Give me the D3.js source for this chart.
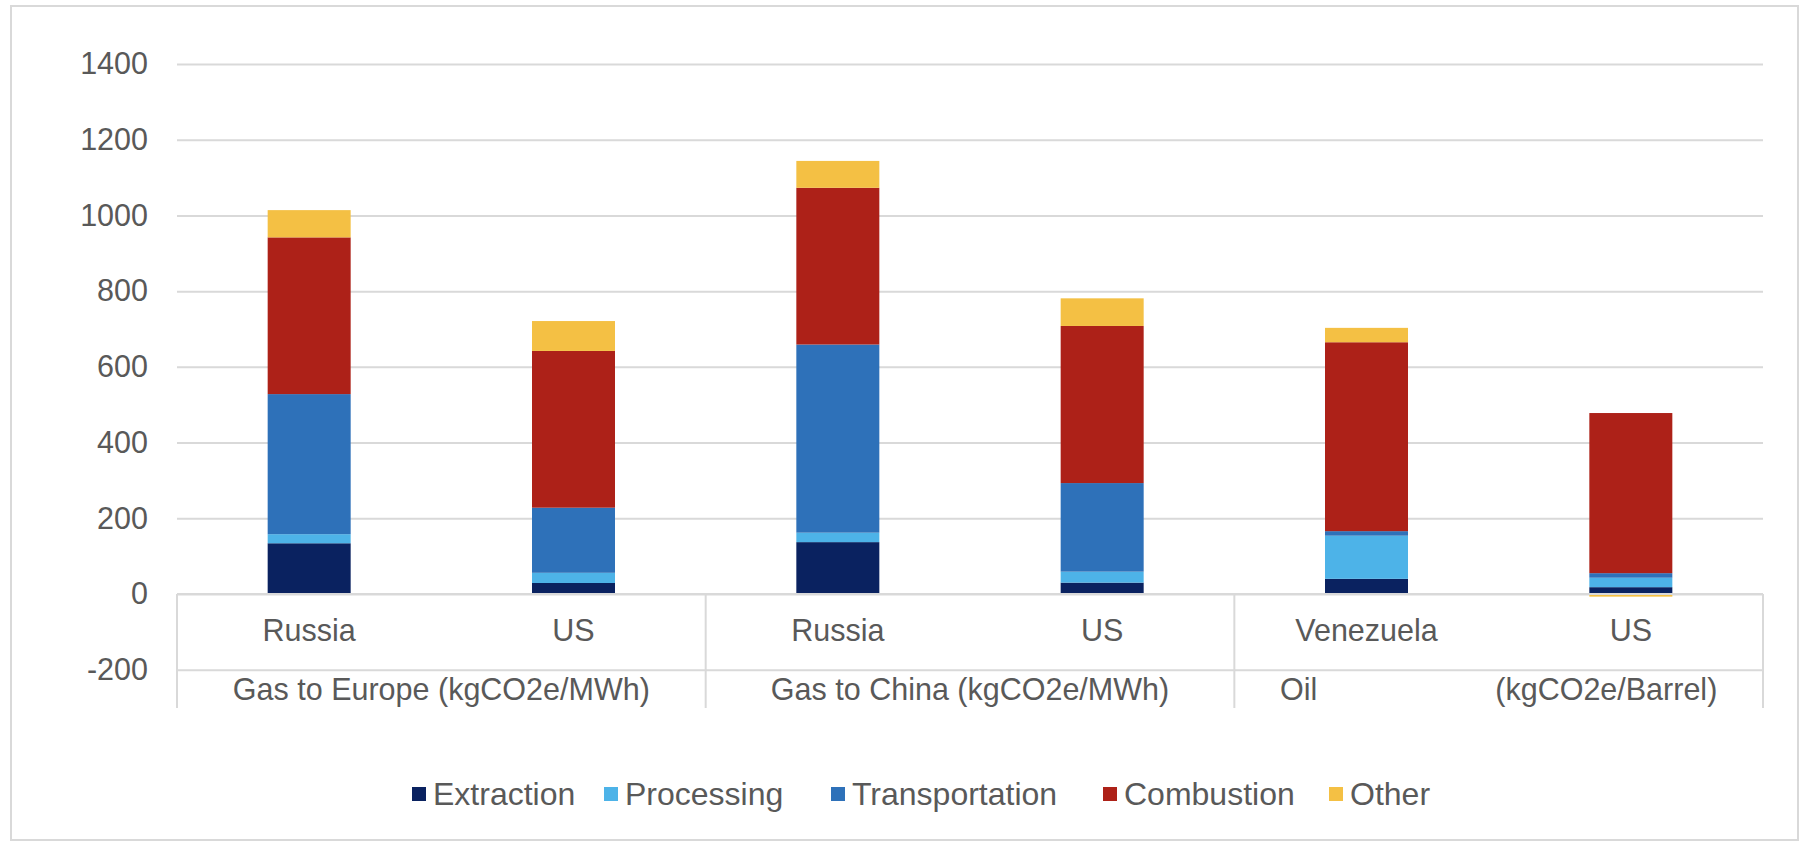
<!DOCTYPE html>
<html>
<head>
<meta charset="utf-8">
<script src="https://cdn.jsdelivr.net/npm/d3@7"></script>
<style>
  body { margin: 0; background: #fff; }
  text { font-family: Helvetica, Arial, "Liberation Sans", sans-serif; fill: #595959; }
</style>
</head>
<body>
<div id="chart"></div>
<script>
const categories = ["Russia", "US", "Russia", "US", "Venezuela", "US"];
const groups = ["Gas to Europe (kgCO2e/MWh)", "Gas to China (kgCO2e/MWh)", "Oil                     (kgCO2e/Barrel)"];
const seriesNames = ["Extraction", "Processing", "Transportation", "Combustion", "Other"];
const seriesColors = ["#0a2260", "#4db3e8", "#2e71b9", "#ad2118", "#f4c044"];

const extraction = [134, 29, 137, 30, 40, 18];
const processing = [24, 27, 25, 29, 114, 25];
const transportation = [370, 172, 497, 234, 12, 12];
const combustion = [414, 414, 414, 415, 499, 423];
const other = [72, 79, 71, 73, 38, -7];

const yTicks = [-200, 0, 200, 400, 600, 800, 1000, 1200, 1400];

const W = 1809, H = 843;
const plot = { left: 177, right: 1763, top: 64, bottom: 669.7 };
const fontSize = 30.5;
const legendFont = 32;

const rows = categories.map((c, i) => ({
  key: i, cat: c,
  Extraction: extraction[i], Processing: processing[i], Transportation: transportation[i],
  Combustion: combustion[i], Other: other[i]
}));

const svg = d3.select("#chart").append("svg")
  .attr("width", W).attr("height", H);

// outer frame
svg.append("rect")
  .attr("x", 11).attr("y", 6).attr("width", W - 22).attr("height", H - 9)
  .attr("fill", "none").attr("stroke", "#d9d9d9").attr("stroke-width", 2);

const x = d3.scaleBand()
  .domain(rows.map(d => d.key))
  .range([plot.left, plot.right])
  .paddingInner(0.686).paddingOuter(0.343);

const y = d3.scaleLinear()
  .domain([-200, 1400])
  .range([plot.bottom, plot.top]);

// gridlines + tick labels
const yAxis = svg.append("g")
  .attr("transform", `translate(${plot.left},0)`)
  .call(d3.axisLeft(y).tickValues(yTicks).tickFormat(d => String(d))
    .tickSize(-(plot.right - plot.left)).tickPadding(29));
yAxis.select(".domain").remove();
yAxis.selectAll(".tick line").attr("stroke", "#d9d9d9").attr("stroke-width", 2);
yAxis.selectAll(".tick text")
  .style("font-size", fontSize + "px")
  .attr("fill", "#595959");

// stacked bars
const stack = d3.stack().keys(seriesNames).offset(d3.stackOffsetDiverging);
const layers = stack(rows);

svg.append("g").selectAll("g")
  .data(layers)
  .join("g")
  .attr("fill", (d, i) => seriesColors[i])
  .selectAll("rect")
  .data(d => d)
  .join("rect")
  .attr("x", d => x(d.data.key))
  .attr("width", x.bandwidth())
  .attr("y", d => y(Math.max(d[0], d[1])))
  .attr("height", d => Math.abs(y(d[0]) - y(d[1])));

// category axis (multi-level)
const y0 = y(0);
svg.append("line")
  .attr("x1", plot.left).attr("x2", plot.right)
  .attr("y1", y0).attr("y2", y0)
  .attr("stroke", "#d9d9d9").attr("stroke-width", 2);

svg.append("g").selectAll("text")
  .data(rows)
  .join("text")
  .attr("x", d => x(d.key) + x.bandwidth() / 2)
  .attr("y", 641)
  .attr("text-anchor", "middle")
  .style("font-size", fontSize + "px")
  .text(d => d.cat);

const groupW = (plot.right - plot.left) / groups.length;
const sepX = d3.range(groups.length + 1).map(i => plot.left + i * groupW);
svg.append("g").selectAll("line")
  .data(sepX)
  .join("line")
  .attr("x1", d => d).attr("x2", d => d)
  .attr("y1", y0).attr("y2", 708)
  .attr("stroke", "#d9d9d9").attr("stroke-width", 2);

svg.append("g").selectAll("text")
  .data(groups)
  .join("text")
  .attr("x", (d, i) => plot.left + (i + 0.5) * groupW)
  .attr("y", 700)
  .attr("text-anchor", "middle")
  .style("white-space", "pre")
  .style("font-size", fontSize + "px")
  .text(d => d);

// legend
const legendX = [412, 604, 831, 1103, 1329];
const legend = svg.append("g").selectAll("g")
  .data(seriesNames)
  .join("g")
  .attr("transform", (d, i) => `translate(${legendX[i]},794)`);
legend.append("rect")
  .attr("x", 0).attr("y", -7).attr("width", 14).attr("height", 14)
  .attr("fill", (d, i) => seriesColors[i]);
legend.append("text")
  .attr("x", 21).attr("y", 0).attr("dy", "0.35em")
  .style("font-size", legendFont + "px")
  .text(d => d);
</script>
</body>
</html>
